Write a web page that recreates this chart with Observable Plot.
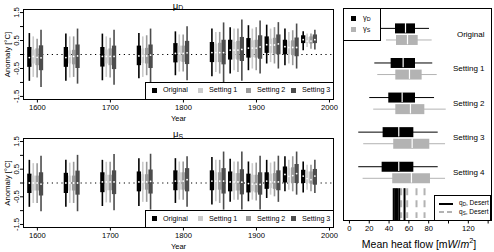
<!DOCTYPE html>
<html><head><meta charset="utf-8">
<script src="https://cdn.jsdelivr.net/npm/d3@7"></script>
<script src="https://cdn.jsdelivr.net/npm/@observablehq/plot@0.6"></script>
<style>
body{margin:0;background:#fff;}
#wrap{position:relative;width:494px;height:252px;overflow:hidden;font-family:"Liberation Sans",Arial,sans-serif;color:#000;}
#wrap svg{position:absolute;}
.ov{position:absolute;white-space:nowrap;line-height:1;}
.box{position:absolute;box-sizing:border-box;border:1px solid #000;background:#fff;}
.sw{position:absolute;}
sub{font-size:0.72em;vertical-align:baseline;position:relative;top:0.25em;}
</style></head><body><div id="wrap"></div>
<script>
// ---------- data ----------
const groupYears = [1600,1650,1700,1750,1800,1850,1875,1900,1925,1950,1975];
const settingNames = ["Original","Setting 1","Setting 2","Setting 3"];
// each entry: [low whisker, Q1, median, Q3, high whisker]
const muD_original = [[-0.96,-0.46,-0.11,0.25,0.75],[-0.96,-0.46,-0.11,0.25,0.73],[-0.94,-0.45,-0.07,0.25,0.73],[-0.87,-0.40,-0.05,0.30,0.75],[-0.76,-0.30,0.04,0.39,0.81],[-0.80,-0.29,0.07,0.43,0.91],[-0.70,-0.20,0.16,0.51,0.96],[-0.58,-0.13,0.23,0.57,1.03],[-0.34,0.04,0.35,0.63,1.05],[-0.40,-0.01,0.28,0.51,0.91],[0.13,0.39,0.53,0.67,0.81]];
const muD_setting1 = [[-0.82,-0.34,-0.07,0.16,0.63],[-0.84,-0.34,-0.07,0.13,0.63],[-0.82,-0.34,-0.07,0.16,0.63],[-0.82,-0.32,-0.05,0.20,0.63],[-0.63,-0.26,0.04,0.30,0.70],[-0.64,-0.29,0.07,0.37,0.79],[-0.58,-0.17,0.16,0.43,0.91],[-0.52,-0.11,0.23,0.49,0.91],[-0.29,0.04,0.34,0.55,0.91],[-0.34,-0.01,0.25,0.46,0.79],[0.25,0.39,0.48,0.61,0.73]];
const muD_setting2 = [[-0.84,-0.40,-0.10,0.20,0.55],[-0.82,-0.37,-0.07,0.15,0.63],[-0.84,-0.40,-0.07,0.20,0.58],[-0.76,-0.34,-0.05,0.22,0.67],[-0.63,-0.28,0.04,0.30,0.70],[-0.70,-0.29,0.07,0.40,0.79],[-0.64,-0.20,0.16,0.47,0.91],[-0.58,-0.13,0.23,0.51,0.96],[-0.34,0.01,0.34,0.58,0.96],[-0.40,-0.04,0.25,0.49,0.85],[0.19,0.37,0.48,0.63,0.73]];
const muD_setting3 = [[-1.18,-0.58,-0.12,0.31,0.87],[-1.06,-0.50,-0.05,0.34,0.91],[-1.10,-0.54,-0.07,0.30,0.87],[-1.08,-0.50,-0.02,0.34,0.91],[-0.94,-0.36,0.06,0.47,0.99],[-1.04,-0.37,0.07,0.51,1.13],[-0.96,-0.25,0.18,0.61,1.23],[-0.70,-0.17,0.27,0.67,1.20],[-0.52,-0.01,0.38,0.70,1.14],[-0.52,-0.08,0.25,0.59,1.09],[0.16,0.39,0.53,0.70,0.87]];
const muS_original = [[-0.88,-0.38,0.00,0.32,0.82],[-0.88,-0.38,0.00,0.35,0.82],[-0.85,-0.35,0.04,0.37,0.82],[-0.85,-0.32,0.04,0.40,0.88],[-0.74,-0.28,0.07,0.44,0.88],[-0.80,-0.28,0.07,0.44,0.92],[-0.70,-0.32,0.04,0.40,0.86],[-0.68,-0.36,-0.02,0.32,0.76],[-0.56,-0.23,0.07,0.37,0.82],[-0.32,0.00,0.31,0.58,0.95],[-0.36,-0.02,0.25,0.46,0.76]];
const muS_setting1 = [[-0.74,-0.29,0.00,0.25,0.70],[-0.74,-0.29,0.00,0.25,0.72],[-0.72,-0.28,0.04,0.28,0.75],[-0.70,-0.26,0.04,0.30,0.75],[-0.62,-0.26,0.07,0.37,0.76],[-0.68,-0.26,0.07,0.37,0.82],[-0.62,-0.29,0.04,0.34,0.76],[-0.62,-0.32,-0.04,0.28,0.70],[-0.44,-0.20,0.04,0.32,0.72],[-0.26,0.00,0.24,0.52,0.82],[-0.26,-0.02,0.16,0.40,0.64]];
const muS_setting2 = [[-0.74,-0.29,0.00,0.25,0.70],[-0.74,-0.29,0.00,0.25,0.75],[-0.72,-0.28,0.04,0.28,0.75],[-0.70,-0.26,0.04,0.30,0.75],[-0.62,-0.26,0.07,0.37,0.76],[-0.74,-0.26,0.07,0.37,0.82],[-0.62,-0.29,0.04,0.34,0.76],[-0.65,-0.36,-0.04,0.28,0.72],[-0.50,-0.23,0.04,0.34,0.76],[-0.32,-0.02,0.27,0.55,0.95],[-0.32,-0.04,0.12,0.40,0.64]];
const muS_setting3 = [[-1.04,-0.47,-0.04,0.37,0.97],[-1.04,-0.44,0.00,0.43,1.00],[-1.00,-0.42,0.04,0.44,1.03],[-0.98,-0.40,0.06,0.47,1.04],[-0.88,-0.32,0.12,0.52,0.95],[-0.98,-0.40,0.07,0.52,1.12],[-0.98,-0.43,0.03,0.48,1.12],[-0.98,-0.44,-0.05,0.37,0.97],[-0.70,-0.28,0.04,0.44,0.97],[-0.44,-0.02,0.34,0.67,1.12],[-0.38,-0.08,0.25,0.49,0.82]];
const yTicks = [-1.5,-1,-0.5,0,0.5,1,1.5];
const yTickLabels = [-1.5,-0.5,0.5,1.5];
const xTicks = [1600,1700,1800,1900,2000];

const heatRows = ["Original","Setting 1","Setting 2","Setting 3","Setting 4"];
const gammaD = [[31.3,46.5,56.6,66.7,80.8],[25.6,42.1,54.2,66.7,84.1],[20.5,39.7,53.2,66.7,85.9],[9.4,34.0,49.8,65.0,89.6],[9.4,33.0,49.8,65.0,89.6]];
const gammaS = [[37.4,47.5,58.6,69.4,83.5],[28.6,46.8,60.6,73.4,88.6],[24.5,46.8,61.6,76.1,97.7],[14.4,44.7,63.3,81.1,97.0],[13.8,43.7,62.6,81.8,97.0]];
const qD_desert = [44.7,46.3,48.0,50.2,55.6];
const qS_desert = [52.2,58.3,67.7,75.8];
const heatTicks = [0,20,40,60,80,100,120,140];
const heatTickLabels = [0,20,40,60,80,120];

// ---------- styles ----------
const COLORS = ["#000000","#cbcbcb","#9a9a9a","#4c4c4c"];
const BOXW = [4.3,3.0,3.3,4.3];
const FONT = "Liberation Sans, Arial, sans-serif";
const wrap = document.getElementById("wrap");

function panel(series, top, height, mBottom) {
  const marks = [Plot.ruleY([0], {stroke:"#000", strokeWidth:1.1, strokeDasharray:"1.2,3.6"})];
  series.forEach((arr, k) => {
    const rows = arr.map((v,i) => ({pos: groupYears[i] - 3 + (k - 1.5) * 5.33, lo:v[0], q1:v[1], med:v[2], q3:v[3], hi:v[4]}));
    marks.push(Plot.ruleX(rows, {x:"pos", y1:"lo", y2:"hi", stroke:COLORS[k], strokeWidth:1.6}));
    marks.push(Plot.ruleX(rows, {x:"pos", y1:"q1", y2:"q3", stroke:COLORS[k], strokeWidth:BOXW[k]}));
    marks.push(Plot.dot(rows, {x:"pos", y:"med", r:0.9, fill:"white", stroke:null}));
  });
  marks.push(Plot.frame({stroke:"#000", strokeWidth:1}));
  marks.push(Plot.axisX({ticks:xTicks, tickSize:3.5, tickPadding:1.5, tickFormat:d=>String(d), label:null}));
  marks.push(Plot.axisY({ticks:yTicks, tickSize:3, tickFormat:()=>"", label:null}));
  marks.push(Plot.text(yTickLabels, {y:d=>d, text:d=>String(d), frameAnchor:"left", dx:-7, rotate:-90, textAnchor:"middle", lineAnchor:"middle"}));
  marks.push(Plot.text(["Anomaly [°C]"], {text:d=>d, frameAnchor:"left", dx:-16, rotate:-90, textAnchor:"middle", lineAnchor:"middle", fontSize:7.8}));
  marks.push(Plot.text(["Year"], {text:d=>d, frameAnchor:"bottom", dy:19, lineAnchor:"middle", fontSize:7.5}));
  const svg = Plot.plot({
    width:340, height, marginLeft:23, marginRight:7, marginTop:9, marginBottom:mBottom,
    x:{domain:[1581,2005.5]}, y:{domain:[-1.61,1.61]},
    style:{fontFamily:FONT, fontSize:"7.6px", background:"transparent", color:"#000", overflow:"visible"},
    marks
  });
  svg.style.left = "0px"; svg.style.top = top + "px";
  wrap.appendChild(svg);
}

panel([muD_original, muD_setting1, muD_setting2, muD_setting3], 0, 126, 27);
panel([muS_original, muS_setting1, muS_setting2, muS_setting3], 129, 123, 25);

// right panel
{
  const mk = (arr, off) => arr.map((v,i) => ({pos:i+off, lo:v[0], q1:v[1], med:v[2], q3:v[3], hi:v[4]}));
  const rD = mk(gammaD, -0.165), rS = mk(gammaS, 0.17);
  const marks = [];
  [[rD,"#000000"],[rS,"#b3b3b3"]].forEach(([rows,c]) => {
    marks.push(Plot.ruleY(rows, {y:"pos", x1:"lo", x2:"hi", stroke:c, strokeWidth:1}));
    marks.push(Plot.ruleY(rows, {y:"pos", x1:"q1", x2:"q3", stroke:c, strokeWidth:10}));
    marks.push(Plot.ruleX(rows, {x:"med", y1:d=>d.pos-0.14, y2:d=>d.pos+0.14, stroke:"white", strokeWidth:1.2}));
  });
  marks.push(Plot.text(heatRows, {y:(d,i)=>i, text:d=>d, frameAnchor:"right", dx:-7, fontSize:8}));
  marks.push(Plot.ruleX(qS_desert, {x:d=>d, y1:4.47, y2:5.33, stroke:"#b3b3b3", strokeWidth:2, strokeDasharray:"7,5"}));
  marks.push(Plot.ruleX(qD_desert, {x:d=>d, y1:4.47, y2:5.39, stroke:"#000", strokeWidth:2}));
  marks.push(Plot.frame({stroke:"#000", strokeWidth:1}));
  marks.push(Plot.axisX({ticks:heatTicks, tickSize:3.5, tickPadding:1.5, tickFormat:d=>heatTickLabels.includes(d)?String(d):"", label:null}));
  const svg = Plot.plot({
    width:161, height:252, marginLeft:10, marginRight:3, marginTop:8, marginBottom:32,
    x:{domain:[-6,143.4]}, y:{domain:[-0.74,5.39], reverse:true, axis:null},
    style:{fontFamily:FONT, fontSize:"7.6px", background:"transparent", color:"#000", overflow:"visible"},
    marks
  });
  svg.style.left = "333px"; svg.style.top = "0px";
  wrap.appendChild(svg);
}

// ---------- overlays: titles, legends, axis label ----------
function ov(html, css) {
  const d = document.createElement("div");
  d.className = "ov"; d.innerHTML = html; Object.assign(d.style, css);
  wrap.appendChild(d); return d;
}
function box(css){ const d=document.createElement("div"); d.className="box"; Object.assign(d.style, css); wrap.appendChild(d); return d; }
function sw(css){ const d=document.createElement("div"); d.className="sw"; Object.assign(d.style, css); wrap.appendChild(d); return d; }

ov("μ<sub>D</sub>", {left:"0px", width:"356px", textAlign:"center", top:"0.5px", fontSize:"9.5px"});
ov("μ<sub>S</sub>", {left:"0px", width:"356px", textAlign:"center", top:"129px", fontSize:"9.5px"});

function settingsLegend(top) {
  box({left:"145px", top:top+"px", width:"189px", height:"18px"});
  const sq = [152, 198, 246, 291], tx = [163, 209, 257, 302];
  settingNames.forEach((n,k) => {
    sw({left:sq[k]+"px", top:(top+6)+"px", width:"5px", height:"5px", background:COLORS[k]});
    ov(n, {left:tx[k]+"px", top:(top+4.5)+"px", fontSize:"7.2px"});
  });
}
settingsLegend(81.5);
settingsLegend(210);

// right legends
box({left:"343px", top:"8px", width:"38px", height:"33px"});
sw({left:"351px", top:"16px", width:"5px", height:"5px", background:"#000"});
sw({left:"351px", top:"27px", width:"5px", height:"5px", background:"#b3b3b3"});
ov("γ<sub>D</sub>", {left:"363px", top:"14px", fontSize:"7.5px"});
ov("γ<sub>S</sub>", {left:"363px", top:"25px", fontSize:"7.5px"});

box({left:"434px", top:"195px", width:"57px", height:"26px"});
sw({left:"439px", top:"203px", width:"14px", height:"2px", background:"#000"});
sw({left:"439px", top:"211px", width:"14px", height:"2px", background:"repeating-linear-gradient(90deg,#b3b3b3 0 5px,transparent 5px 8px)"});
ov("q<sub>D</sub>, Desert", {left:"459px", top:"200px", fontSize:"6.5px"});
ov("q<sub>S</sub>, Desert", {left:"459px", top:"208.5px", fontSize:"6.5px"});

ov("Mean heat flow [m<i>W</i>/<i>m</i><sup style='font-size:0.7em'>2</sup>]", {left:"333px", width:"172px", textAlign:"center", top:"237px", fontSize:"10.5px"});
</script></body></html>
